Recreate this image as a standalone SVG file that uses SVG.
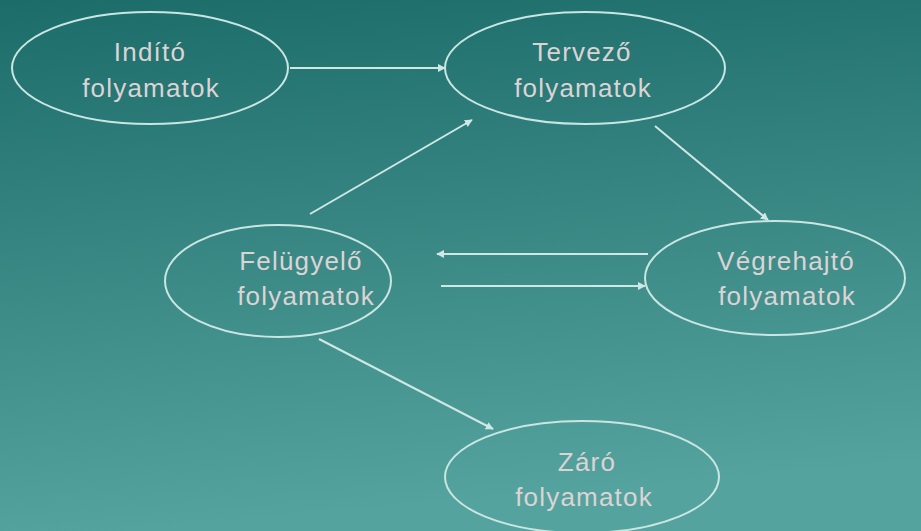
<svg xmlns="http://www.w3.org/2000/svg" width="921" height="531" viewBox="0 0 921 531">
<defs>
<linearGradient id="bg" x1="0" y1="0" x2="0.15" y2="1">
<stop offset="0" stop-color="#1c6c6a"/>
<stop offset="1" stop-color="#55a39e"/>
</linearGradient>
<marker id="ah" viewBox="0 0 10 10" refX="9" refY="5" markerWidth="4" markerHeight="4" orient="auto">
<path d="M0,0 L10,5 L0,10 z" fill="#cfe8e4"/>
</marker>
<style>
.n ellipse{fill:none;stroke:#c9e6e2;stroke-width:2}
.n text{font-family:"Liberation Sans",Arial,sans-serif;font-size:26px;letter-spacing:1.2px;fill:#dcd4d4;text-anchor:middle}
#edges line{stroke:#cfe8e4;stroke-width:2;marker-end:url(#ah)}
</style>
</defs>
<rect width="921" height="531" fill="url(#bg)"/>
<g id="edges">
<line x1="290" y1="68" x2="445" y2="68"/>
<line x1="310" y1="214" x2="472" y2="120"/>
<line x1="655" y1="126" x2="768" y2="220"/>
<line x1="648" y1="254" x2="437" y2="254"/>
<line x1="441" y1="286" x2="645" y2="286"/>
<line x1="319" y1="339" x2="493" y2="429"/>
</g>
<g id="indito" class="n"><ellipse cx="150" cy="68" rx="138" ry="56"/><text x="150" y="61">Indító</text><text x="151" y="97">folyamatok</text></g>
<g id="tervezo" class="n"><ellipse cx="585" cy="68" rx="140" ry="56"/><text x="582" y="61">Tervező</text><text x="583" y="97">folyamatok</text></g>
<g id="felugyelo" class="n"><ellipse cx="278" cy="281" rx="113" ry="56"/><text x="301" y="270">Felügyelő</text><text x="306" y="305">folyamatok</text></g>
<g id="vegrehajto" class="n"><ellipse cx="775" cy="278" rx="130" ry="57"/><text x="786" y="270">Végrehajtó</text><text x="787" y="305">folyamatok</text></g>
<g id="zaro" class="n"><ellipse cx="582" cy="477" rx="137" ry="56"/><text x="587" y="471">Záró</text><text x="584" y="506">folyamatok</text></g>
</svg>
